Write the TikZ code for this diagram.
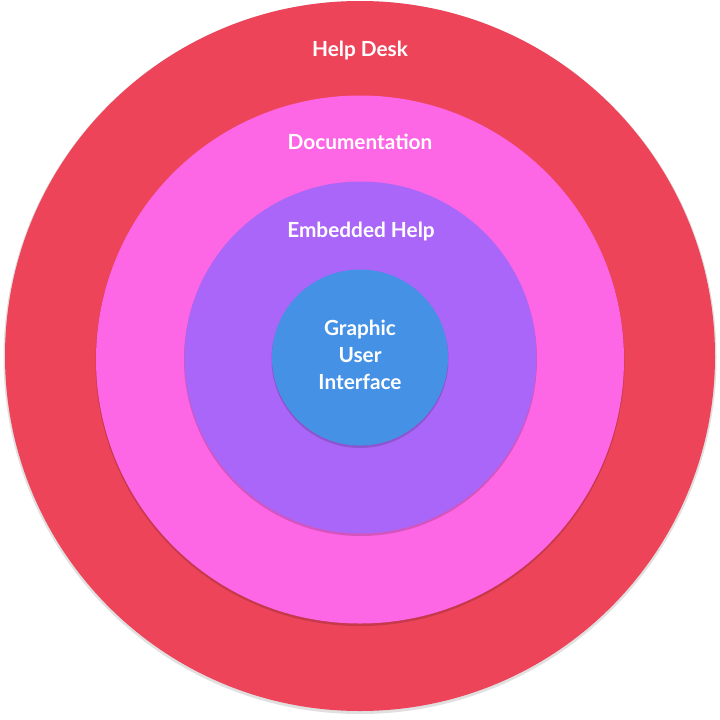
\documentclass[tikz,border=0pt]{standalone}
\usepackage{fontspec}
\setmainfont{Lato}
\definecolor{cred}{HTML}{ED445A}
\definecolor{cpink}{HTML}{FD66E4}
\definecolor{cpurple}{HTML}{AA66F8}
\definecolor{cblue}{HTML}{4591E6}
\tikzset{
  ring/.style={circle, inner sep=0pt, minimum size=#1},
  shade ring/.style={circle, inner sep=0pt, minimum size=#1, fill=black, opacity=0.16},
  lbl/.style={text=white, font=\bfseries\fontsize{20.8}{27}\selectfont, align=center, inner sep=0pt}
}
\begin{document}
\begin{tikzpicture}[x=1pt,y=-1pt]
\useasboundingbox (0,0) rectangle (720,720);
\fill[white] (0,0) rectangle (720,720);
% outer
\node[shade ring=713pt, opacity=0.12] (s1) at (360,357.5) {};
\node[ring=710pt, fill=cred] (c1) at (360,356) {};
% pink
\node[shade ring=529pt] (s2) at (360,361.5) {};
\node[ring=528pt, fill=cpink] (c2) at (360,359.5) {};
% purple
\node[shade ring=353pt] (s3) at (360.5,359.5) {};
\node[ring=352pt, fill=cpurple] (c3) at (360.5,357.5) {};
% blue
\node[shade ring=177pt] (s4) at (360,359.5) {};
\node[ring=176pt, fill=cblue] (c4) at (360,357.5) {};
% labels
\node[lbl] (t1) at (360,51) {Help Desk};
\node[lbl] (t2) at (360,142) {Documentation};
\node[lbl] (t3) at (361,232) {Embedded Help};
\node[lbl] (t4) at (360,355) {Graphic\\User\\Interface};
\end{tikzpicture}
\end{document}
